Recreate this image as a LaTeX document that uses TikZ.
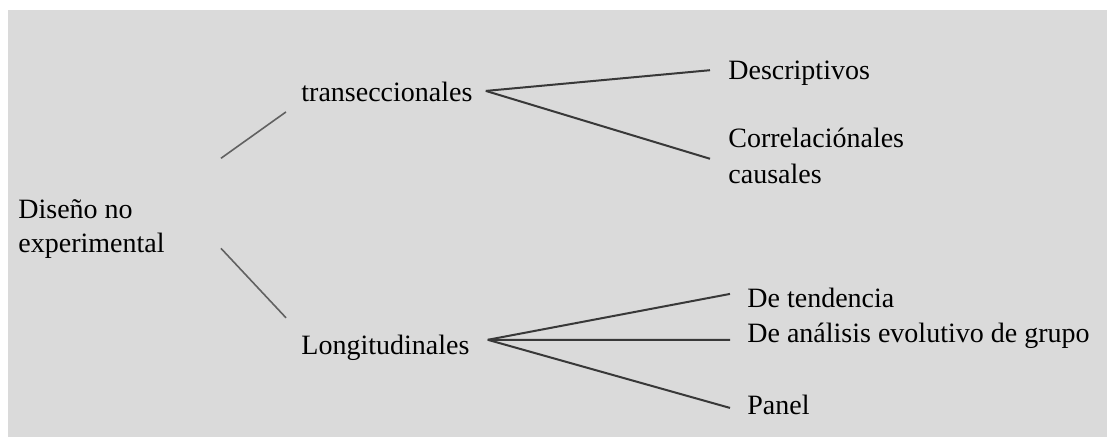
\documentclass[tikz,border=0pt]{standalone}
\usepackage{fontspec}
\newfontfamily\diagfont{Liberation Serif}
\usetikzlibrary{scopes}
\definecolor{paper}{RGB}{218,218,218}
\begin{document}
\begin{tikzpicture}[x=0.5pt,y=-0.5pt,
    term/.style={inner sep=0pt,font=\diagfont\fontsize{14}{17}\selectfont},
    stem/.style={draw=black!62,line width=0.8pt},
    branch/.style={draw=black!78,line width=1pt},
]
	\useasboundingbox (0,0) rectangle (1107,437);
	\fill[paper] (8,10) rectangle (1107,437); % sheet
	{[term]
	\node (root) [anchor=north west,align=left] at (18,199) {Diseño no\\experimental};
	\node (trans) [anchor=base west] at (301,102) {transeccionales};
	\node (long) [anchor=base west] at (301,355) {Longitudinales};
	\node (desc) [anchor=base west] at (728,80) {Descriptivos};
	\node (corr) [anchor=north west,align=left,font=\diagfont\fontsize{14}{18}\selectfont] at (728,128) {Correlaciónales\\causales};
	\node (tend) [anchor=base west] at (747,308) {De tendencia};
	\node (anal) [anchor=base west] at (747,343) {De análisis evolutivo de grupo};
	\node (panel) [anchor=base west] at (747,415) {Panel};
	}
	{[stem]
	\draw ([shift={(56,-70.5)}]root.east) -- ([shift={(-15,19.5)}]trans.west); % upper
	\draw ([shift={(56,19.5)}]root.east) -- ([shift={(-15,-30.5)}]long.west); % lower
	}
	{[branch]
	\draw ([shift={(13,-1.5)}]trans.east) -- ([shift={(-18,-3.5)}]desc.west);
	\draw ([shift={(13,-1.5)}]trans.east) -- ([shift={(-18,2.5)}]corr.west);
	\draw ([shift={(18,-8.5)}]long.east) -- ([shift={(-17,-4.5)}]tend.west);
	\draw ([shift={(18,-8.5)}]long.east) -- ([shift={(-17,3.5)}]anal.west);
	\draw ([shift={(18,-8.5)}]long.east) -- ([shift={(-17,2.5)}]panel.west);
	}
\end{tikzpicture}
\end{document}
